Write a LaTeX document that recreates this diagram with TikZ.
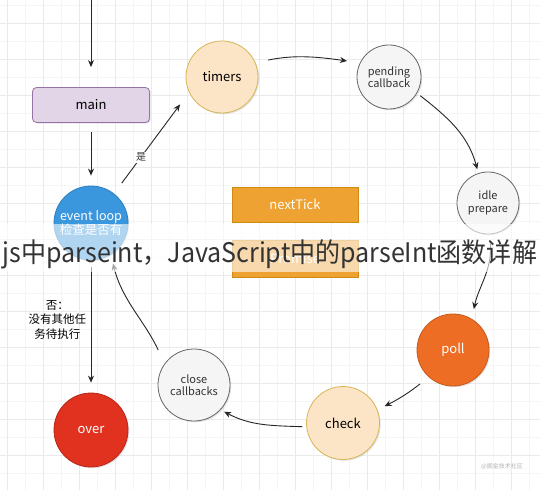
\documentclass[tikz,border=0pt]{standalone}
\usepackage{fontspec}
\setmainfont{Noto Sans CJK SC}
\usetikzlibrary{arrows.meta,shadows}
\definecolor{gridminor}{HTML}{F5F5F5}
\definecolor{gridmajor}{HTML}{EAEAEA}
\definecolor{mainfill}{HTML}{E1D5E7}
\definecolor{maindraw}{HTML}{9673A6}
\definecolor{blue1}{HTML}{3A96DD}
\definecolor{blue2}{HTML}{2E7FC0}
\definecolor{redfill}{HTML}{E0321F}
\definecolor{reddraw}{HTML}{B8261A}
\definecolor{peach}{HTML}{FCE4C6}
\definecolor{peachdraw}{HTML}{D6B656}
\definecolor{grayfill}{HTML}{F5F5F5}
\definecolor{graydraw}{HTML}{666666}
\definecolor{pollfill}{HTML}{EE6D25}
\definecolor{polldraw}{HTML}{C65A1A}
\definecolor{ntfill}{HTML}{EEA232}
\definecolor{ntdraw}{HTML}{D08A10}
\definecolor{txtgray}{HTML}{333333}
\begin{document}
\begin{tikzpicture}[x=1pt,y=1pt,
  arr/.style={draw=black!85, line width=0.9pt, -{Stealth[length=7pt,width=6pt]}},
  shad/.style={drop shadow={opacity=0.22,shadow xshift=1.2pt,shadow yshift=-1.2pt}},
  circ/.style={circle, inner sep=0pt, line width=0.8pt, align=center, shad},
  boxstyle/.style={rectangle, line width=0.8pt, align=center, shad},
  peachc/.style={circ, fill=peach, draw=peachdraw, font=\fontsize{13}{15}\selectfont, text=black},
  grayc/.style={circ, fill=grayfill, draw=graydraw, font=\fontsize{11}{12.5}\selectfont, text=txtgray},
  lbl/.style={font=\fontsize{11.5}{14.5}\selectfont, text=black, align=center}
]
\useasboundingbox (0,0) rectangle (540,490);
\fill[white] (0,0) rectangle (540,490);
% grid
\foreach \gx in {-11,7,...,540} \draw[gridminor, line width=0.5pt] (\gx,0) -- (\gx,490);
\foreach \gy in {-1,17,...,490} \draw[gridminor, line width=0.5pt] (0,\gy) -- (540,\gy);
\foreach \gx in {7,43,...,540} \draw[gridmajor, line width=0.5pt] (\gx,0) -- (\gx,490);
\foreach \gy in {-1,35,...,490} \draw[gridmajor, line width=0.5pt] (0,\gy) -- (540,\gy);

% nodes
\coordinate (top) at (91,490);
\node[boxstyle, rounded corners=4pt, fill=mainfill, draw=maindraw, minimum width=117pt, minimum height=35pt, font=\fontsize{13}{15}\selectfont] (main) at (91,385) {main};
\node[circ, fill=blue1, draw=blue2, minimum size=74pt, text=white, font=\fontsize{12.5}{12}\selectfont] (eventloop) at (91,267) {event loop\\检查是否有};
\node[circ, fill=redfill, draw=reddraw, minimum size=74pt, text=white, font=\fontsize{13}{15}\selectfont] (over) at (91,60) {over};
\node[peachc, minimum size=72pt] (timers) at (222,413) {timers};
\node[grayc, minimum size=64pt] (pending) at (389,413) {pending\\callback};
\node[grayc, minimum size=62pt] (idle) at (488,287) {idle\\prepare};
\node[circ, fill=pollfill, draw=polldraw, minimum size=72pt, text=white, font=\fontsize{13}{15}\selectfont] (poll) at (453,140) {poll};
\node[peachc, minimum size=73pt] (check) at (343,67) {check};
\node[grayc, minimum size=72pt] (close) at (194,105) {close\\callbacks};
\node[boxstyle, fill=ntfill, draw=ntdraw, minimum width=126pt, minimum height=35pt, text=white, font=\fontsize{13}{15}\selectfont] (nexttick) at (295,285.5) {nextTick};
\node[boxstyle, fill=ntfill, draw=ntdraw, minimum width=126pt, minimum height=37pt, text=white, font=\fontsize{13}{15}\selectfont] (promise) at (295,231.5) {Promise};

% connectors
\draw[arr, shorten >=20pt] (top) -- (main);
\draw[arr, shorten <=9pt, shorten >=10pt] (main) -- (eventloop);
\draw[arr, shorten <=7pt, shorten >=10pt] (eventloop) -- node[pos=0.45, left=1pt, lbl] {否：\\没有其他任\\务待执行} (over);
\draw[arr, shorten <=13pt, shorten >=15pt] (eventloop.52) -- node[pos=0.36, fill=white, inner sep=1pt, font=\fontsize{10}{12}\selectfont, text=txtgray] {是} (timers.205);
\draw[arr, shorten <=13pt, shorten >=13pt] (timers.23) to[out=12, in=172] (pending.154);
\draw[arr, shorten <=4pt, shorten >=4pt] (pending.-30) to[out=-38, in=105] (idle.108);
\draw[arr, shorten <=6pt, shorten >=10pt] (idle.-88) to[out=-82, in=78] (poll.59);
\draw[arr, shorten <=11pt, shorten >=8pt] (poll.228) to[bend left=6] (check.21);
\draw[arr, shorten <=4pt, shorten >=4pt] (check.186) to[out=178, in=-28] (close.-43);
\draw[arr, shorten <=15pt, shorten >=9pt] (close.144) to[out=115, in=-76] (eventloop.-58);

% overlay band and title
\fill[white, opacity=0.6] (0,218) rectangle (540,266);
\node[anchor=base, inner sep=0pt, text=txtgray, font=\fontsize{27}{30}\selectfont] (title) at (270,227) {\resizebox{534pt}{\height}{js中parseint，JavaScript中的parseInt函数详解}};
\node[text=black!30, font=\fontsize{6}{7}\selectfont] (wm) at (502,24) {@掘金技术社区};
\end{tikzpicture}
\end{document}
